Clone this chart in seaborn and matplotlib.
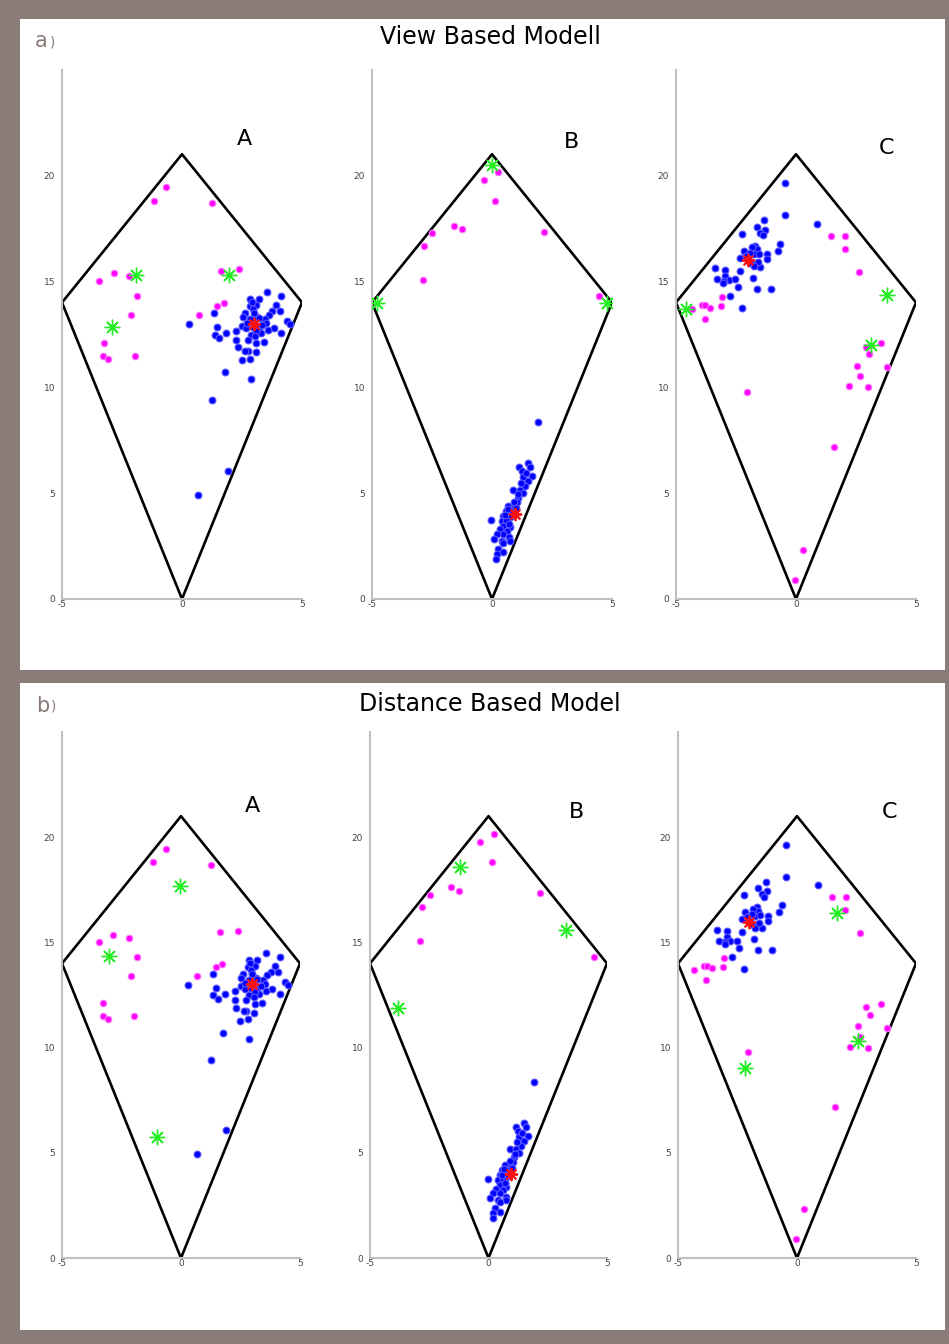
import matplotlib
matplotlib.use("Agg")
import matplotlib.pyplot as plt
from matplotlib.patches import Rectangle
import seaborn as sns
import pandas as pd

# ---------------- data ----------------
kite_x = [0, 5, 0, -5, 0]
kite_y = [0, 14, 21, 14, 0]

x_ticks = [-5, 0, 5]
y_ticks = [0, 5, 10, 15, 20]

panel_titles = ["View Based Modell", "Distance Based Model"]
row_labels = ["a", "b"]
col_labels = ["A", "B", "C"]

# scenario A
A_blue_x = [3.56, 4.14, 2.85, 3.20, 3.10, 2.82, 3.93, 2.96, 3.77, 4.07, 1.33, 2.61, 3.63, 2.54,
            3.14, 3.45, 4.39, 0.29, 2.52, 3.52, 4.49, 1.47, 2.68, 3.21, 3.83, 3.58, 2.27, 1.85,
            1.36, 4.14, 2.86, 3.28, 1.54, 2.27, 2.75, 3.10, 3.42, 2.33, 2.75, 3.07, 2.64, 2.82,
            2.48, 1.78, 2.86, 1.26, 1.90, 0.68, 2.85, 3.20, 2.95, 3.10, 3.00, 2.70, 3.35, 2.90,
            3.05]
A_blue_y = [14.48, 14.29, 14.17, 14.17, 13.90, 13.82, 13.86, 13.67, 13.59, 13.59, 13.49, 13.51,
            13.43, 13.32, 13.32, 13.23, 13.11, 12.99, 12.91, 13.04, 12.99, 12.85, 12.80, 12.80,
            12.80, 12.69, 12.67, 12.56, 12.48, 12.56, 12.48, 12.56, 12.30, 12.25, 12.25, 12.09,
            12.14, 11.90, 11.73, 11.65, 11.73, 11.35, 11.27, 10.70, 10.41, 9.40, 6.06, 4.93,
            13.20, 13.25, 12.85, 12.65, 13.50, 13.05, 12.95, 14.00, 12.40]
A_mag_x = [-0.65, -1.17, 1.24, -3.46, -2.85, -2.19, -1.86, -2.11, 1.64, 2.38, 1.74, 1.46, 0.69,
           -3.26, -3.29, -3.08, -1.97]
A_mag_y = [19.45, 18.81, 18.70, 15.02, 15.37, 15.23, 14.31, 13.41, 15.50, 15.56, 13.97, 13.83,
           13.41, 12.11, 11.49, 11.34, 11.49]
A_red_x = [3.0]
A_red_y = [13.0]
A_green_view_x = [-1.90, 1.94, -2.90]
A_green_view_y = [15.31, 15.31, 12.82]
A_green_dist_x = [-3.03, -0.04, -1.01]
A_green_dist_y = [14.35, 17.67, 5.75]

# scenario B
B_blue_x = [1.90, 1.51, 1.14, 1.24, 1.58, 1.65, 1.30, 1.51, 1.37, 0.89, 1.17, 1.30, 1.09, 1.03,
            0.68, 0.89, 0.58, 0.82, 0.47, 0.75, -0.04, 0.40, 0.68, 0.47, 0.75, 0.33, 0.61, 0.47,
            0.20, 0.72, 0.08, 0.40, 0.75, 0.47, 0.26, 0.47, 0.20, 0.17, 0.85, 0.60, 0.70, 0.55,
            0.90, 1.20, 1.40, 1.00, 0.65, 1.10]
B_blue_y = [8.36, 6.41, 6.21, 6.05, 6.21, 5.82, 5.74, 5.58, 5.34, 5.16, 5.16, 5.00, 4.79, 4.56,
            4.40, 4.32, 4.17, 4.09, 3.93, 3.85, 3.74, 3.69, 3.61, 3.46, 3.38, 3.30, 3.22, 3.07,
            3.07, 2.91, 2.83, 2.75, 2.75, 2.64, 2.36, 2.20, 2.12, 1.89, 4.20, 3.75, 3.55, 3.95,
            4.60, 5.50, 5.95, 4.30, 4.25, 4.95]
B_mag_x = [0.24, -0.35, 0.14, -1.58, -1.26, -2.48, -2.82, 2.18, -2.88, 4.47]
B_mag_y = [20.14, 19.76, 18.80, 17.61, 17.45, 17.26, 16.68, 17.34, 15.06, 14.29]
B_red_x = [0.96]
B_red_y = [4.01]
B_green_view_x = [0.0, -4.79, 4.79]
B_green_view_y = [20.50, 13.99, 13.99]
B_green_dist_x = [-1.22, 3.29, -3.80]
B_green_dist_y = [18.57, 15.58, 11.88]

# scenario C
C_blue_x = [-0.47, -0.47, -1.32, -1.63, -1.28, -1.49, -1.38, -2.23, -0.65, -0.75, -1.70, -1.63,
            -2.18, -1.77, -1.56, -1.21, -1.21, -2.32, -1.98, -1.70, -1.93, -1.49, -3.36, -2.95,
            -2.32, -3.29, -2.95, -2.81, -3.02, -2.53, -1.79, -3.04, -2.42, -1.63, -1.03, -2.74,
            -2.23, 0.88, -1.85, -1.60, -1.90, -1.75, -2.10]
C_blue_y = [19.62, 18.11, 17.89, 17.58, 17.42, 17.29, 17.18, 17.25, 16.77, 16.43, 16.67, 16.51,
            16.43, 16.27, 16.30, 16.27, 16.04, 16.11, 16.04, 15.80, 15.88, 15.67, 15.61, 15.53,
            15.49, 15.09, 15.25, 15.05, 15.01, 15.09, 15.17, 14.93, 14.73, 14.62, 14.65, 14.31,
            13.75, 17.72, 16.60, 15.90, 16.35, 15.70, 16.20]
C_mag_x = [1.47, 2.04, 2.03, 2.63, -4.33, -3.92, -3.78, -3.57, -3.11, -3.08, -3.81, 2.92, 3.53,
           3.05, 2.55, 3.78, 2.65, 2.22, 3.00, -2.06, 1.58, 0.29, -0.06]
C_mag_y = [17.14, 17.14, 16.54, 15.45, 13.68, 13.90, 13.90, 13.76, 13.82, 14.25, 13.21, 11.92,
           12.08, 11.57, 11.02, 10.94, 10.52, 10.05, 10.00, 9.78, 7.20, 2.33, 0.88]
C_red_x = [-2.02]
C_red_y = [15.99]
C_green_view_x = [-4.58, 3.78, 3.14]
C_green_view_y = [13.71, 14.37, 12.01]
C_green_dist_x = [1.68, -2.18, 2.56]
C_green_dist_y = [16.39, 9.03, 10.31]

scen = {
    "A": dict(bx=A_blue_x, by=A_blue_y, mx=A_mag_x, my=A_mag_y, rx=A_red_x, ry=A_red_y,
              g=[(A_green_view_x, A_green_view_y), (A_green_dist_x, A_green_dist_y)]),
    "B": dict(bx=B_blue_x, by=B_blue_y, mx=B_mag_x, my=B_mag_y, rx=B_red_x, ry=B_red_y,
              g=[(B_green_view_x, B_green_view_y), (B_green_dist_x, B_green_dist_y)]),
    "C": dict(bx=C_blue_x, by=C_blue_y, mx=C_mag_x, my=C_mag_y, rx=C_red_x, ry=C_red_y,
              g=[(C_green_view_x, C_green_view_y), (C_green_dist_x, C_green_dist_y)]),
}

# ---------------- styling ----------------
sns.set_style("white")
plt.rcParams["font.family"] = ["DejaVu Sans"]

W, H = 949, 1344
BORDER = "#8a7c79"
fig = plt.figure(figsize=(W / 100, H / 100), dpi=100)
fig.patch.set_facecolor(BORDER)

# white panels
fig.add_artist(Rectangle((20 / W, 1 - 670 / H), 925 / W, 651 / H, transform=fig.transFigure,
                         facecolor="white", edgecolor="none", zorder=0))
fig.add_artist(Rectangle((20 / W, 1 - 1330 / H), 925 / W, 647 / H, transform=fig.transFigure,
                         facecolor="white", edgecolor="none", zorder=0))

# titles and row labels
title_y = [37, 704]
for t, ty in zip(panel_titles, title_y):
    fig.text(490 / W, 1 - ty / H, t, ha="center", va="center", fontsize=17, color="black")
lab_pos = [(35, 41), (36, 706)]
for lab, (lx, ly) in zip(row_labels, lab_pos):
    fig.text(lx / W, 1 - ly / H, lab, ha="left", va="center", fontsize=15, color=BORDER)
    fig.text((lx + 15) / W, 1 - (ly + 1) / H, ")", ha="left", va="center", fontsize=10,
             color=BORDER)

# axes geometry (pixels)
rows = [
    dict(lefts=[62, 372, 676], widths=[240, 240, 240], y0=599, ytop=69.5),
    dict(lefts=[62, 370, 678], widths=[238, 237, 238], y0=1258, ytop=732),
]
label_pos = [
    [(2.6, 21.7), (3.3, 21.6), (3.75, 21.3)],
    [(3.0, 21.5), (3.7, 21.2), (3.9, 21.2)],
]

ast8 = (8, 2, 0)

for ri, row in enumerate(rows):
    for ci, key in enumerate(col_labels):
        d = scen[key]
        ax = fig.add_axes([row["lefts"][ci] / W, 1 - row["y0"] / H,
                           row["widths"][ci] / W, (row["y0"] - row["ytop"]) / H])
        ax.set_facecolor("none")
        ax.set_xlim(-5, 5)
        ax.set_ylim(0, 25)

        kite = pd.DataFrame({"x": kite_x, "y": kite_y})
        sns.lineplot(data=kite, x="x", y="y", sort=False, estimator=None, color="black",
                     linewidth=1.9, ax=ax, zorder=2)

        sns.scatterplot(x=d["mx"], y=d["my"], color="#ff00ff", marker="o", s=22,
                        edgecolor="#ff77ff", linewidth=0.8, ax=ax, zorder=3)
        sns.scatterplot(x=d["bx"], y=d["by"], color="#0000ff", marker="o", s=24,
                        edgecolor="#5a5aff", linewidth=0.8, ax=ax, zorder=4)
        gx, gy = d["g"][ri]
        sns.scatterplot(x=gx, y=gy, color="#22ee22", marker=ast8, s=110,
                        linewidth=1.0, ax=ax, zorder=5)
        sns.scatterplot(x=d["rx"], y=d["ry"], color="#ff1010", marker=ast8, s=70,
                        linewidth=1.4, ax=ax, zorder=6)

        lx, ly = label_pos[ri][ci]
        ax.text(lx, ly, key, fontsize=16, ha="center", va="center", color="black")

        ax.set_xticks(x_ticks)
        ax.set_yticks(y_ticks)
        ax.set_xticklabels([str(v) for v in x_ticks])
        ax.set_yticklabels([str(v) for v in y_ticks])
        ax.set_xlabel("")
        ax.set_ylabel("")
        for s in ["top", "right"]:
            ax.spines[s].set_visible(False)
        for s in ["left", "bottom"]:
            ax.spines[s].set_color("#c0c0c0")
            ax.spines[s].set_linewidth(1.5)
        ax.tick_params(axis="y", direction="out", length=4, width=1, color="#999999",
                       labelsize=6.5, labelcolor="#444444", pad=1)
        ax.tick_params(axis="x", direction="in", length=4, width=1, color="#999999",
                       labelsize=6.5, labelcolor="#444444", pad=1)
        if ax.legend_:
            ax.legend_.remove()

fig.savefig("out.png", dpi=100, facecolor=fig.get_facecolor())
